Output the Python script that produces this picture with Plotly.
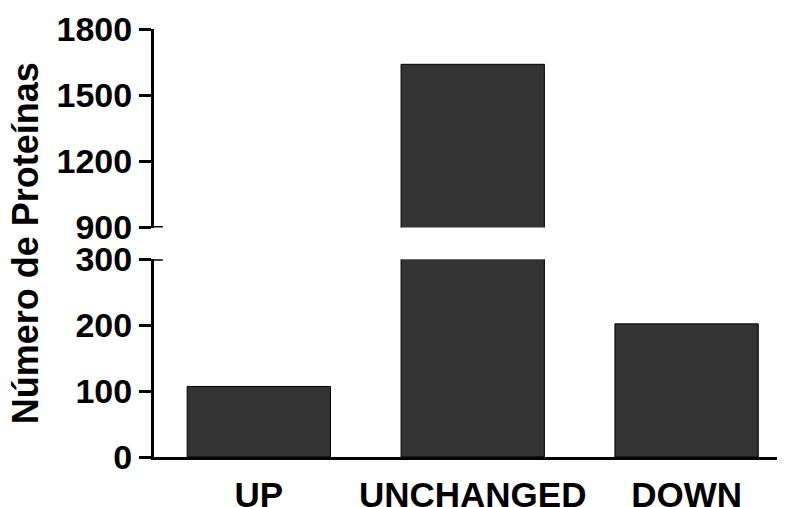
import plotly.graph_objects as go

categories = ["UP", "UNCHANGED", "DOWN"]
values = [107, 1640, 202]

lower_range = [0, 300]
upper_range = [900, 1800]
lower_ticks = [0, 100, 200, 300]
upper_ticks = [900, 1200, 1500, 1800]

FONT = "Liberation Sans, Arial, sans-serif"
BAR_COLOR = "#333333"

fig = go.Figure()
for ax in ["y", "y2"]:
    fig.add_trace(go.Bar(
        x=categories, y=values, yaxis=ax, width=0.67,
        marker=dict(color=BAR_COLOR, line=dict(color="black", width=1)),
        showlegend=False, hoverinfo="x+y",
    ))

axis_common = dict(
    showline=True, linecolor="black", linewidth=3,
    ticks="outside", ticklen=12, tickwidth=3, tickcolor="black",
    showgrid=False, zeroline=False, automargin=False,
    tickfont=dict(family=FONT, size=34, color="black", weight="bold"),
    ticklabelstandoff=0,
)

# the page body adds an 8px offset, so the figure is 8px smaller on each axis
fig.update_layout(
    width=777, height=499,
    margin=dict(l=146, r=0, t=21, b=50, autoexpand=False),
    paper_bgcolor="white", plot_bgcolor="white",
    bargap=0.33,
    xaxis=dict(
        range=[-0.49, 2.46], showline=True, linecolor="black", linewidth=3,
        ticks="", showgrid=False, zeroline=False, anchor="y", automargin=False,
        tickfont=dict(family=FONT, size=35, color="black", weight="bold"),
        ticklabelstandoff=5,
    ),
    yaxis=dict(domain=[0, 0.462], range=lower_range, tickvals=lower_ticks, **axis_common),
    yaxis2=dict(domain=[0.536, 1], range=upper_range, tickvals=upper_ticks, anchor="x", **axis_common),
)

# break marks extending to the right of the axis
for yref, yval in [("y", lower_range[1]), ("y2", upper_range[0])]:
    fig.add_shape(type="line", xref="x domain", x0=0, x1=0.014, yref=yref, y0=yval, y1=yval,
                  line=dict(color="black", width=3))

fig.add_annotation(
    text="Número de Proteínas", xref="paper", yref="paper", x=-0.204, y=0.5,
    xanchor="center", yanchor="middle", textangle=-90, showarrow=False,
    font=dict(family=FONT, size=36, color="black", weight="bold"),
)

fig.write_html("out.html")
